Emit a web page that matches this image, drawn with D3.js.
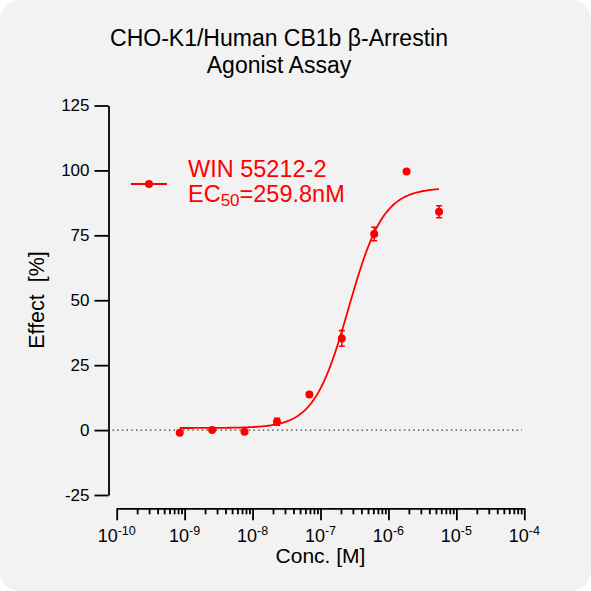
<!DOCTYPE html>
<meta charset="utf-8">
<title>CHO-K1/Human CB1b β-Arrestin Agonist Assay</title>
<style>
body { margin: 0; background: #fff; }
text { font-family: Arial, "Liberation Sans", sans-serif; }
.axis path, .axis line { stroke: #000; stroke-width: 1.8px; }
.axis text { font-size: 17px; fill: #000; }
</style>
<body>
<div id="chart"></div>
<script src="https://cdn.jsdelivr.net/npm/d3@7"></script>
<script>

// data
const conc    = [8.47e-10, 2.54e-9, 7.62e-9, 2.29e-8, 6.86e-8, 2.06e-7, 6.17e-7, 1.85e-6, 5.56e-6]; // M
const effect  = [-1.0, 0.0, -0.6, 3.2, 13.7, 35.3, 75.5, 99.6, 84.1]; // %
const errBar  = [0, 0, 0, 1.3, 0, 3.0, 2.6, 0, 2.3];
// 4PL fit: bottom, top, EC50 (M), hill slope
const fitParams = [0.8, 93.3, 259.8e-9, 1.7];
const yTicks  = [-25, 0, 25, 50, 75, 100, 125];
const xDecades = [-10, -9, -8, -7, -6, -5, -4];
const titleLines = ["CHO-K1/Human CB1b β-Arrestin", "Agonist Assay"];
const seriesName = "WIN 55212-2";

const width = 591, height = 591;
const red = "#ff0000";

let svg = d3.select("#chart").append("svg")
    .attr("width", width)
    .attr("height", height);

// panel background
svg.append("rect")
    .attr("width", width).attr("height", height)
    .attr("rx", 20).attr("ry", 20)
    .attr("fill", "#f2f2f2");

// scales
let x = d3.scaleLog().domain([1e-10, 1e-4]).range([116.7, 524.3]);
let y = d3.scaleLinear().domain([-25, 125]).range([495, 105.5]);

// title
svg.append("g").selectAll("text")
    .data(titleLines)
    .enter().append("text")
    .attr("x", 279)
    .attr("y", (d, i) => 45.5 + i * 27.8)
    .attr("text-anchor", "middle")
    .attr("font-size", 23)
    .text(d => d);

// y axis (plain hyphen for negatives, like the reference)
let yAxis = svg.append("g")
    .attr("class", "axis")
    .attr("transform", "translate(108.5,0)")
    .call(d3.axisLeft(y).tickValues(yTicks).tickSize(14).tickSizeOuter(0).tickPadding(5)
        .tickFormat(d => String(d)));

// x axis: majors, minors and custom 10^n labels
let xAxisY = 508.3;
let majors = xDecades.map(p => Math.pow(10, p));
let minors = [];
xDecades.slice(0, -1).forEach(p => {
    for (let k = 2; k <= 9; k++) minors.push(k * Math.pow(10, p));
});

svg.append("g")
    .attr("class", "axis")
    .attr("transform", `translate(0,${xAxisY})`)
    .call(d3.axisBottom(x).tickValues(majors).tickSize(12).tickSizeOuter(0).tickFormat(""));
svg.append("g")
    .attr("class", "axis minor")
    .attr("transform", `translate(0,${xAxisY})`)
    .call(d3.axisBottom(x).tickValues(minors).tickSize(6).tickSizeOuter(0).tickFormat(""))
    .select(".domain").remove();

let xl = svg.append("g").selectAll("text")
    .data(xDecades)
    .enter().append("text")
    .attr("x", d => x(Math.pow(10, d)))
    .attr("y", 542.2)
    .attr("text-anchor", "middle")
    .attr("font-size", 18);
xl.append("tspan").text("10");
xl.append("tspan")
    .attr("font-size", 12.5)
    .attr("dy", -7)
    .text(d => "-" + Math.abs(d));

// axis titles
svg.append("text")
    .attr("x", 320.5).attr("y", 563)
    .attr("text-anchor", "middle")
    .attr("font-size", 21)
    .text("Conc. [M]");
svg.append("text")
    .attr("transform", "translate(44,300) rotate(-90)")
    .attr("text-anchor", "middle")
    .attr("font-size", 21.5)
    .style("white-space", "pre")
    .text("Effect  [%]");

// dotted baseline at 0
svg.append("line")
    .attr("x1", 112.5).attr("x2", 522)
    .attr("y1", y(0)).attr("y2", y(0))
    .attr("stroke", "#333").attr("stroke-width", 1.4)
    .attr("stroke-dasharray", "1.4,3.3");

// fitted curve
const [fitBottom, fitTop, ec50, hill] = fitParams;
function fourPL(c) {
    return fitBottom + (fitTop - fitBottom) / (1 + Math.pow(ec50 / c, hill));
}
let lo = Math.log10(conc[0]), hi = Math.log10(conc[conc.length - 1]);
let curvePts = d3.range(0, 201).map(i => {
    let c = Math.pow(10, lo + (hi - lo) * i / 200);
    return [x(c), y(fourPL(c))];
});
svg.append("path")
    .attr("d", d3.line()(curvePts))
    .attr("fill", "none")
    .attr("stroke", red)
    .attr("stroke-width", 1.8);

// points + error bars
let pts = conc.map((c, i) => ({c: c, v: effect[i], e: errBar[i]}));
let g = svg.append("g").selectAll("g")
    .data(pts)
    .enter().append("g")
    .attr("transform", d => `translate(${x(d.c)},0)`);

g.filter(d => d.e > 0).append("path")
    .attr("d", d => `M-3,${y(d.v + d.e)}H3M0,${y(d.v + d.e)}V${y(d.v - d.e)}M-3,${y(d.v - d.e)}H3`)
    .attr("stroke", red).attr("stroke-width", 1.6).attr("fill", "none");
g.append("circle")
    .attr("cy", d => y(d.v))
    .attr("r", 4)
    .attr("fill", red);

// legend
let lg = svg.append("g");
lg.append("line")
    .attr("x1", 131).attr("x2", 167)
    .attr("y1", 184).attr("y2", 184)
    .attr("stroke", red).attr("stroke-width", 1.8);
lg.append("circle").attr("cx", 149).attr("cy", 184).attr("r", 4).attr("fill", red);
lg.append("text")
    .attr("x", 188).attr("y", 176.7)
    .attr("font-size", 23.5).attr("fill", red)
    .text(seriesName);
let ec = lg.append("text")
    .attr("x", 188).attr("y", 201.5)
    .attr("font-size", 23.5).attr("fill", red);
ec.append("tspan").text("EC");
ec.append("tspan").attr("font-size", 17).attr("dy", 4).text("50");
ec.append("tspan").attr("dy", -4).text("=" + (ec50 * 1e9).toFixed(1) + "nM");

</script>
</body>
